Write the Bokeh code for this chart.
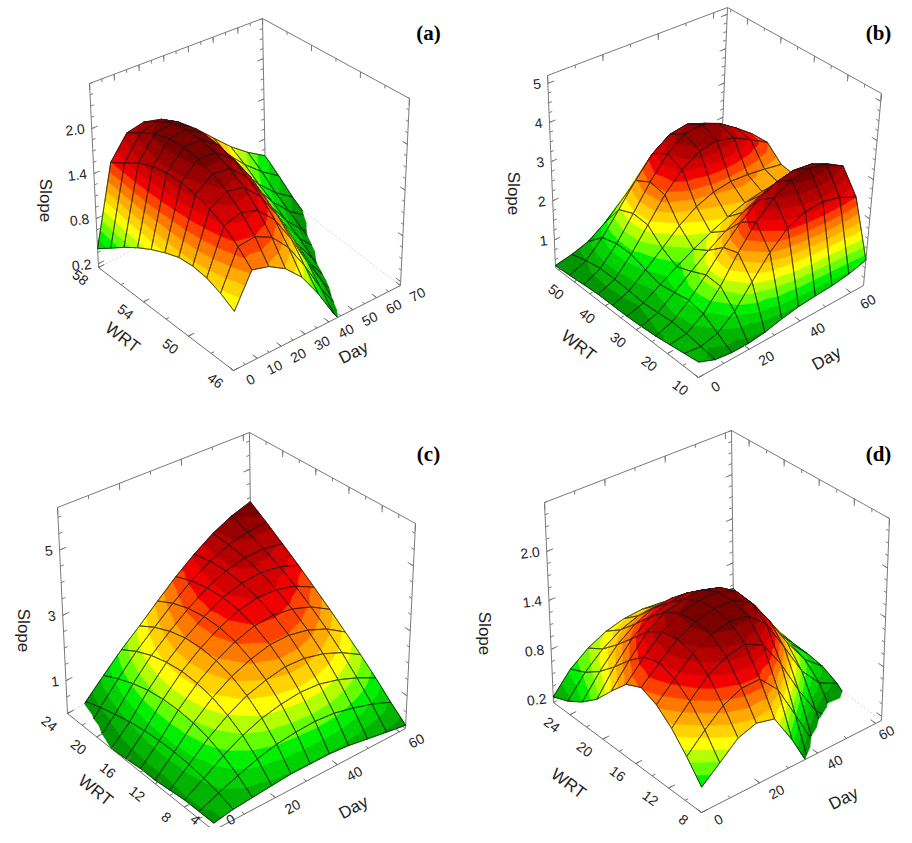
import numpy as np
from bokeh.plotting import figure
from bokeh.models import Range1d, ColumnDataSource
from bokeh.core.properties import value
from bokeh.embed import file_html
from bokeh.resources import INLINE

# ---------------- data: fitted Slope surfaces ----------------
# each table: one row per WRT value, one column per Day value

# (a)
day_a = [0, 7, 14, 21, 28, 35, 42, 49, 56, 63, 70]
wrt_a = [46, 47.2, 48.4, 49.6, 50.8, 52, 53.2, 54.4, 55.6, 56.8, 58]
slope_a = [
    [0.85, 1.25, 1.20, 1.08, 0.88, 0.58, 0.22, -0.08, -0.30, -0.45, -0.50],
    [0.95, 1.42, 1.45, 1.35, 1.13, 0.80, 0.42, 0.08, -0.18, -0.33, -0.42],
    [1.02, 1.56, 1.64, 1.57, 1.36, 1.02, 0.62, 0.24, -0.04, -0.22, -0.33],
    [1.05, 1.66, 1.79, 1.75, 1.54, 1.20, 0.78, 0.37, 0.07, -0.13, -0.25],
    [1.04, 1.73, 1.90, 1.88, 1.68, 1.34, 0.92, 0.50, 0.18, -0.02, -0.16],
    [0.98, 1.77, 1.98, 1.97, 1.80, 1.48, 1.06, 0.65, 0.32, 0.08, -0.05],
    [0.90, 1.78, 2.02, 2.03, 1.87, 1.56, 1.16, 0.76, 0.43, 0.18, 0.03],
    [0.80, 1.75, 2.02, 2.05, 1.90, 1.60, 1.22, 0.86, 0.55, 0.30, 0.12],
    [0.68, 1.68, 1.97, 2.02, 1.88, 1.62, 1.28, 0.95, 0.66, 0.42, 0.24],
    [0.54, 1.56, 1.87, 1.93, 1.83, 1.62, 1.34, 1.06, 0.80, 0.58, 0.40],
    [0.40, 1.45, 1.75, 1.80, 1.74, 1.60, 1.40, 1.16, 0.92, 0.72, 0.55],
]
day_ticks_a = [0, 10, 20, 30, 40, 50, 60, 70]
wrt_ticks_a = [46, 50, 54, 58]
slope_ticks_a = [0.2, 0.8, 1.4, 2.0]
slope_labels_a = ["0.2", "0.8", "1.4", "2.0"]

# (b)
day_b = [0, 6.5, 13, 19.5, 26, 32.5, 39, 45.5, 52, 58.5, 65]
wrt_b = [10, 14.6, 19.2, 23.8, 28.4, 33, 37.6, 42.2, 46.8, 51.4, 56]
slope_b = [
    [0.65, 0.50, 0.45, 0.45, 0.50, 0.60, 0.68, 0.72, 0.75, 0.82, 0.95],
    [0.60, 0.55, 0.65, 0.95, 1.45, 1.95, 2.35, 2.55, 2.60, 2.50, 2.30],
    [0.55, 0.60, 0.85, 1.30, 1.90, 2.45, 2.85, 3.10, 3.20, 3.10, 2.85],
    [0.50, 0.62, 0.92, 1.32, 1.78, 2.20, 2.55, 2.80, 2.90, 2.85, 2.65],
    [0.47, 0.58, 0.85, 1.15, 1.45, 1.72, 1.98, 2.20, 2.32, 2.32, 2.22],
    [0.45, 0.55, 0.78, 1.00, 1.22, 1.42, 1.60, 1.75, 1.82, 1.82, 1.78],
    [0.45, 0.58, 0.88, 1.20, 1.55, 1.82, 1.98, 2.04, 2.00, 1.92, 1.82],
    [0.45, 0.60, 1.00, 1.52, 2.08, 2.52, 2.80, 2.86, 2.72, 2.45, 2.15],
    [0.42, 0.60, 1.00, 1.55, 2.15, 2.68, 3.00, 3.05, 2.85, 2.50, 2.10],
    [0.38, 0.52, 0.88, 1.38, 1.92, 2.42, 2.72, 2.78, 2.58, 2.25, 1.80],
    [0.35, 0.40, 0.50, 0.75, 1.10, 1.50, 1.95, 2.15, 2.05, 1.75, 1.30],
]
day_ticks_b = [0, 20, 40, 60]
wrt_ticks_b = [10, 20, 30, 40, 50]
slope_ticks_b = [1, 2, 3, 4, 5]
slope_labels_b = ["1", "2", "3", "4", "5"]

# (c)
day_c = [0, 6.2, 12.4, 18.6, 24.8, 31, 37.2, 43.4, 49.6, 55.8, 62]
wrt_c = [4, 6, 8, 10, 12, 14, 16, 18, 20, 22, 24]
slope_c = [
    [0.20, 0.30, 0.35, 0.40, 0.45, 0.45, 0.45, 0.40, 0.30, 0.20, 0.10],
    [0.20, 0.43, 0.64, 0.83, 0.97, 1.04, 1.07, 1.02, 0.88, 0.70, 0.45],
    [0.20, 0.52, 0.88, 1.18, 1.40, 1.53, 1.60, 1.56, 1.40, 1.16, 0.85],
    [0.15, 0.59, 1.06, 1.44, 1.74, 1.92, 2.04, 2.01, 1.86, 1.60, 1.23],
    [0.10, 0.62, 1.17, 1.63, 1.98, 2.22, 2.38, 2.39, 2.26, 2.00, 1.60],
    [0.10, 0.61, 1.22, 1.73, 2.13, 2.43, 2.63, 2.68, 2.59, 2.36, 1.98],
    [0.05, 0.57, 1.21, 1.76, 2.19, 2.53, 2.79, 2.90, 2.87, 2.69, 2.35],
    [0.00, 0.49, 1.14, 1.70, 2.16, 2.54, 2.86, 3.03, 3.08, 2.98, 2.73],
    [-0.15, 0.37, 1.00, 1.57, 2.03, 2.46, 2.83, 3.09, 3.23, 3.23, 3.10],
    [-0.40, 0.23, 0.80, 1.35, 1.81, 2.28, 2.71, 3.06, 3.32, 3.46, 3.48],
    [-0.70, 0.05, 0.55, 1.05, 1.50, 2.00, 2.50, 2.95, 3.35, 3.65, 3.85],
]
day_ticks_c = [0, 20, 40, 60]
wrt_ticks_c = [4, 8, 12, 16, 20, 24]
slope_ticks_c = [1, 3, 5]
slope_labels_c = ["1", "3", "5"]

# (d)
day_d = [0, 6.2, 12.4, 18.6, 24.8, 31, 37.2, 43.4, 49.6, 55.8, 62]
wrt_d = [8, 9.8, 11.6, 13.4, 15.2, 17, 18.8, 20.6, 22.4, 24.2, 26]
slope_d = [
    [0.43, 0.60, 0.78, 0.85, 0.80, 0.46, 0.05, -0.28, -0.48, -0.55, -0.55],
    [0.65, 0.85, 1.03, 1.13, 1.14, 0.92, 0.52, 0.10, -0.18, -0.30, -0.30],
    [0.85, 1.06, 1.26, 1.38, 1.43, 1.32, 1.00, 0.58, 0.22, 0.02, 0.05],
    [1.00, 1.20, 1.40, 1.52, 1.58, 1.55, 1.36, 0.98, 0.58, 0.32, 0.20],
    [1.08, 1.27, 1.45, 1.56, 1.62, 1.62, 1.50, 1.18, 0.80, 0.48, 0.28],
    [1.00, 1.22, 1.42, 1.54, 1.60, 1.61, 1.52, 1.25, 0.90, 0.55, 0.30],
    [0.80, 1.06, 1.30, 1.44, 1.50, 1.51, 1.44, 1.20, 0.88, 0.56, 0.30],
    [0.58, 0.86, 1.10, 1.26, 1.33, 1.35, 1.29, 1.10, 0.84, 0.57, 0.32],
    [0.42, 0.68, 0.90, 1.05, 1.14, 1.16, 1.10, 0.96, 0.77, 0.56, 0.36],
    [0.30, 0.54, 0.72, 0.85, 0.92, 0.94, 0.90, 0.80, 0.66, 0.52, 0.40],
    [0.22, 0.45, 0.60, 0.70, 0.75, 0.76, 0.73, 0.66, 0.58, 0.50, 0.45],
]
day_ticks_d = [0, 20, 40, 60]
wrt_ticks_d = [8, 12, 16, 20, 24]
slope_ticks_d = [0.2, 0.8, 1.4, 2.0]
slope_labels_d = ["0.2", "0.8", "1.4", "2.0"]

# green -> yellow -> red -> dark red, low to high Slope
palette = ["#009600", "#00b400", "#00d200", "#00f000", "#64ff00", "#b4ff00",
           "#ffff00", "#ffd200", "#ffaa00", "#ff7800", "#ff4100", "#f00000",
           "#d20000", "#b40000", "#960000", "#7a0000"]

# ---------------- layout: box corners in page pixels ----------------
panels = [
    dict(letter="(a)", day=day_a, wrt=wrt_a, slope=slope_a,
         day_lim=(0, 70), wrt_lim=(46, 58), slope_lim=(0.15, 2.6),
         day_ticks=day_ticks_a, wrt_ticks=wrt_ticks_a,
         slope_ticks=slope_ticks_a, slope_labels=slope_labels_a,
         box=dict(FB=(233, 370), RB=(400, 285), BL=(98, 267),
                  TL=(89, 83), TR=(409, 98), TK=(262, 18)),
         pos=dict(letter=(428, 32), Slope=(45, 200), WRT=(122, 337), Day=(353, 352))),
    dict(letter="(b)", day=day_b, wrt=wrt_b, slope=slope_b,
         day_lim=(0, 65), wrt_lim=(10, 56), slope_lim=(0.3, 5.2),
         day_ticks=day_ticks_b, wrt_ticks=wrt_ticks_b,
         slope_ticks=slope_ticks_b, slope_labels=slope_labels_b,
         box=dict(FB=(698, 377), RB=(863, 285), BL=(555, 267),
                  TL=(547, 75), TR=(881, 93), TK=(727, 7)),
         pos=dict(letter=(878, 32), Slope=(513, 193), WRT=(578, 345), Day=(826, 358))),
    dict(letter="(c)", day=day_c, wrt=wrt_c, slope=slope_c,
         day_lim=(0, 62), wrt_lim=(4, 24), slope_lim=(0.0, 6.3),
         day_ticks=day_ticks_c, wrt_ticks=wrt_ticks_c,
         slope_ticks=slope_ticks_c, slope_labels=slope_labels_c,
         box=dict(FB=(213, 830), RB=(405, 728), BL=(67, 713),
                  TL=(57, 507), TR=(415, 523), TK=(249, 432), BK=(251, 610)),
         pos=dict(letter=(428, 453), Slope=(23, 630), WRT=(95, 790), Day=(353, 807))),
    dict(letter="(d)", day=day_d, wrt=wrt_d, slope=slope_d,
         day_lim=(0, 62), wrt_lim=(8, 26), slope_lim=(0.15, 2.6),
         day_ticks=day_ticks_d, wrt_ticks=wrt_ticks_d,
         slope_ticks=slope_ticks_d, slope_labels=slope_labels_d,
         box=dict(FB=(701, 812), RB=(881, 720), BL=(553, 702),
                  TL=(544, 502), TR=(889, 518), TK=(731, 430)),
         pos=dict(letter=(878, 453), Slope=(484, 633), WRT=(568, 783), Day=(843, 798))),
]

W, H = 896, 827


def make_proj(box):
    FB, RB, BL, TL, TR, TK = (np.array(box[k], float) for k in ("FB", "RB", "BL", "TL", "TR", "TK"))
    BK = np.array(box["BK"], float) if "BK" in box else BL + RB - FB
    FT = TL + TR - TK

    def P(u, v, w):
        u = np.asarray(u, float)[..., None]
        v = np.asarray(v, float)[..., None]
        w = np.asarray(w, float)[..., None]
        bot = (1 - u) * (1 - v) * FB + u * (1 - v) * RB + (1 - u) * v * BL + u * v * BK
        top = (1 - u) * (1 - v) * FT + u * (1 - v) * TR + (1 - u) * v * TL + u * v * TK
        xy = (1 - w) * bot + w * top
        return xy[..., 0], xy[..., 1]
    return P


def clip_poly(poly, level, above):
    out = []
    n = len(poly)
    for k in range(n):
        a, b = poly[k], poly[(k + 1) % n]
        fa = a[2] - level if above else level - a[2]
        fb = b[2] - level if above else level - b[2]
        if fa >= 0:
            out.append(a)
        if (fa >= 0) != (fb >= 0):
            out.append(a + fa / (fa - fb) * (b - a))
    return out


def minor_ticks(major, lim, parts):
    step = (major[1] - major[0]) / parts
    t = major[0]
    while t - step >= lim[0] - 1e-9:
        t -= step
    out = []
    while t <= lim[1] + 1e-9:
        out.append(t)
        t += step
    return out


surf = dict(xs=[], ys=[], fc=[], lc=[], fa=[], la=[], lw=[])
back_segs, floor_segs, front_segs = [], [], []
labels = dict(x=[], y=[], text=[], angle=[], align=[])
titles = dict(x=[], y=[], text=[], angle=[])


def add_patch(x, y, fill, line, falpha, lalpha, width):
    surf["xs"].append(list(x))
    surf["ys"].append(list(y))
    surf["fc"].append(fill)
    surf["lc"].append(line)
    surf["fa"].append(falpha)
    surf["la"].append(lalpha)
    surf["lw"].append(width)


def add_label(x, y, text, angle, align):
    labels["x"].append(min(float(x), W - 10))
    labels["y"].append(min(float(y), H - 8))
    labels["text"].append(text)
    labels["angle"].append(angle)
    labels["align"].append(align)


for pn in panels:
    P = make_proj(pn["box"])
    (d0, d1), (r0, r1), (z0, z1) = pn["day_lim"], pn["wrt_lim"], pn["slope_lim"]
    U = (np.array(pn["day"], float) - d0) / (d1 - d0)
    V = (np.array(pn["wrt"], float) - r0) / (r1 - r0)
    Z = np.array(pn["slope"], float)

    def seg(lst, a, b):
        x, y = P([a[0], b[0]], [a[1], b[1]], [a[2], b[2]])
        lst.append((x[0], y[0], x[1], y[1]))

    # box edges behind the surface
    seg(back_segs, (0, 1, 0), (0, 1, 1))
    seg(back_segs, (1, 0, 0), (1, 0, 1))
    seg(back_segs, (1, 1, 0), (1, 1, 1))
    seg(back_segs, (0, 1, 1), (1, 1, 1))
    seg(back_segs, (1, 1, 1), (1, 0, 1))
    seg(floor_segs, (0, 1, 0), (1, 1, 0))
    seg(floor_segs, (1, 0, 0), (1, 1, 0))
    seg(front_segs, (0, 0, 0), (0, 1, 0))
    seg(front_segs, (0, 0, 0), (1, 0, 0))

    ticks_u = [((t - d0) / (d1 - d0), 0.035) for t in pn["day_ticks"]] + \
              [((t - d0) / (d1 - d0), 0.018) for t in minor_ticks(pn["day_ticks"], pn["day_lim"], 2)]
    ticks_v = [((t - r0) / (r1 - r0), 0.035) for t in pn["wrt_ticks"]] + \
              [((t - r0) / (r1 - r0), 0.018) for t in minor_ticks(pn["wrt_ticks"], pn["wrt_lim"], 2)]
    ticks_w = [((t - z0) / (z1 - z0), 0.035) for t in pn["slope_ticks"]] + \
              [((t - z0) / (z1 - z0), 0.018) for t in minor_ticks(pn["slope_ticks"], pn["slope_lim"], 4)]
    for u, L in ticks_u:
        seg(front_segs, (u, 0, 0), (u, L, 0))
        seg(back_segs, (u, 1, 1), (u, 1, 1 - L))
    for v, L in ticks_v:
        seg(front_segs, (0, v, 0), (L, v, 0))
        seg(back_segs, (1, v, 1), (1, v, 1 - L))
    for w, L in ticks_w:
        seg(back_segs, (0, 1, w), (L, 1, w))
        seg(back_segs, (1, 0, w), (1, L, w))
        seg(back_segs, (1, 1, w), (1 - L, 1, w))

    # surface, painted from the back corner towards the front corner
    lo, hi = max(z0, Z.min()), Z.max()
    levels = np.linspace(lo, hi, len(palette) + 1)

    def scr(pts):
        pts = np.array(pts)
        return P(pts[:, 0], pts[:, 1], (pts[:, 2] - z0) / (z1 - z0))

    cells = sorted(((i, j) for j in range(len(V) - 1) for i in range(len(U) - 1)),
                   key=lambda c: -(U[c[0]] + U[c[0] + 1] + V[c[1]] + V[c[1] + 1]))
    for i, j in cells:
        q00 = np.array([U[i], V[j], Z[j, i]])
        q10 = np.array([U[i + 1], V[j], Z[j, i + 1]])
        q11 = np.array([U[i + 1], V[j + 1], Z[j + 1, i + 1]])
        q01 = np.array([U[i], V[j + 1], Z[j + 1, i]])
        for tri in ([q10, q11, q01], [q00, q10, q01]):
            for k, col in enumerate(palette):
                poly = clip_poly(tri, levels[k], True)
                if k < len(palette) - 1 and len(poly) >= 3:
                    poly = clip_poly(poly, levels[k + 1], False)
                if len(poly) >= 3:
                    x, y = scr(poly)
                    add_patch(x, y, col, col, 1.0, 1.0, 0.8)
        for a, b in ((q00, q10), (q10, q11), (q11, q01), (q01, q00)):
            if a[2] < z0 and b[2] < z0:
                continue
            if a[2] < z0:
                a = a + (z0 - a[2]) / (b[2] - a[2]) * (b - a)
            elif b[2] < z0:
                b = b + (z0 - b[2]) / (a[2] - b[2]) * (a - b)
            x, y = scr([a, b])
            add_patch(x, y, "#000000", "#151515", 0.0, 0.85, 0.6)

    # tick labels and titles
    fx, fy = P(0, 0, 0)
    rx, ry = P(1, 0, 0)
    lx, ly = P(0, 1, 0)
    day_ang = float(np.arctan2(-(ry - fy), rx - fx))
    wrt_ang = float(np.arctan2(-(fy - ly), fx - lx))
    for t in pn["day_ticks"]:
        x, y = P((t - d0) / (d1 - d0), 0, 0)
        add_label(x + 17, y + 9, str(t), day_ang, "center")
    for t in pn["wrt_ticks"]:
        x, y = P(0, (t - r0) / (r1 - r0), 0)
        add_label(x - 18, y + 10, str(t), wrt_ang, "center")
    for t, s in zip(pn["slope_ticks"], pn["slope_labels"]):
        x, y = P(0, 1, (t - z0) / (z1 - z0))
        add_label(x - 7, y, s, 0.12, "right")
    for name, ang in (("Slope", -np.pi / 2), ("WRT", wrt_ang), ("Day", day_ang)):
        titles["x"].append(pn["pos"][name][0])
        titles["y"].append(pn["pos"][name][1])
        titles["text"].append(name)
        titles["angle"].append(float(ang))

p = figure(width=W, height=H, x_range=Range1d(0, W), y_range=Range1d(H, 0),
           output_backend="svg", toolbar_location=None, min_border=0,
           x_axis_location=None, y_axis_location=None)
p.grid.grid_line_color = None
p.outline_line_color = None

bs = np.array(back_segs)
p.segment(bs[:, 0], bs[:, 1], bs[:, 2], bs[:, 3], line_color="#7a7a7a", line_width=1)
fl = np.array(floor_segs)
p.segment(fl[:, 0], fl[:, 1], fl[:, 2], fl[:, 3], line_color="#c8c8c8", line_width=0.8,
          line_dash="2 2")
p.patches("xs", "ys", source=ColumnDataSource(surf), fill_color="fc", line_color="lc",
          fill_alpha="fa", line_alpha="la", line_width="lw")
fs = np.array(front_segs)
p.segment(fs[:, 0], fs[:, 1], fs[:, 2], fs[:, 3], line_color="#6e6e6e", line_width=1)

p.text("x", "y", "text", angle="angle", text_align="align", source=ColumnDataSource(labels),
       text_baseline="middle", text_font=value("Liberation Sans"),
       text_font_size=value("14px"), text_color="#1e1e1e")
p.text("x", "y", "text", angle="angle", source=ColumnDataSource(titles),
       text_align="center", text_baseline="middle", text_font=value("Liberation Sans"),
       text_font_size=value("17px"), text_color="#1e1e1e")
p.text([pn["pos"]["letter"][0] for pn in panels], [pn["pos"]["letter"][1] for pn in panels],
       [pn["letter"] for pn in panels], text_align="center", text_baseline="middle",
       text_font=value("Liberation Serif"), text_font_style="bold",
       text_font_size=value("21px"), text_color="#000000")

open("out.html", "w").write(file_html(p, INLINE))
